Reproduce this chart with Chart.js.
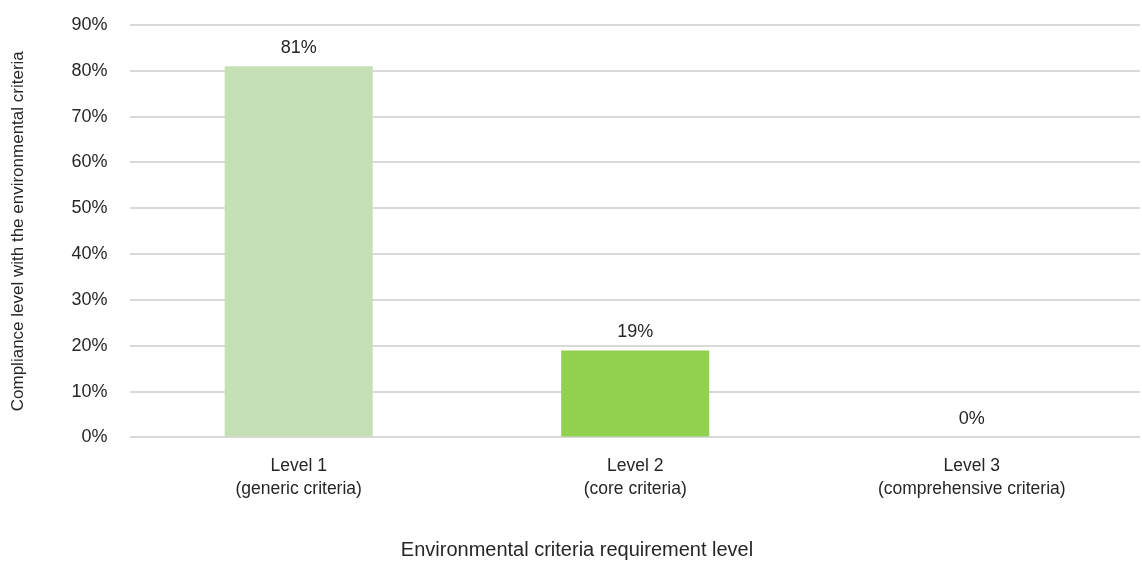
<!DOCTYPE html>
<html>
<head>
<meta charset="utf-8">
<script src="https://cdn.jsdelivr.net/npm/chart.js@4"></script>
<style>
  html, body { margin: 0; padding: 0; background: #fff; }
  #wrap { width: 1142px; height: 568px; }
</style>
</head>
<body>
<div id="wrap"><canvas id="chart"></canvas></div>
<script>
'use strict';

const categories = [
    ['Level 1', '(generic criteria)'],
    ['Level 2', '(core criteria)'],
    ['Level 3', '(comprehensive criteria)']
];
const compliance = [81, 19, 0];
const barColors = ['#C5E0B4', '#92D050', '#70AD47'];
const yMax = 90;
const yStep = 10;

const xTitle = 'Environmental criteria requirement level';
const yTitle = 'Compliance level with the environmental criteria';

const FONT = '"Liberation Sans", Arial, sans-serif';
const TEXT = '#262626';

// value label above each bar
const valueLabels = {
    id: 'valueLabels',
    afterDatasetsDraw(chart) {
        const { ctx } = chart;
        const meta = chart.getDatasetMeta(0);
        ctx.save();
        ctx.font = '18px ' + FONT;
        ctx.fillStyle = TEXT;
        ctx.textAlign = 'center';
        ctx.textBaseline = 'bottom';
        meta.data.forEach((bar, i) => {
            ctx.fillText(compliance[i] + '%', bar.x, bar.y - 9);
        });
        ctx.restore();
    }
};

// x axis title sits centred on the page, not on the plot
const pageXTitle = {
    id: 'pageXTitle',
    afterDraw(chart) {
        const { ctx } = chart;
        ctx.save();
        ctx.font = '20px ' + FONT;
        ctx.fillStyle = TEXT;
        ctx.textAlign = 'center';
        ctx.textBaseline = 'middle';
        ctx.fillText(xTitle, chart.width / 2 + 6, chart.height - 18);
        ctx.restore();
    }
};

new Chart(document.getElementById('chart'), {
    type: 'bar',
    data: {
        labels: categories,
        datasets: [{
            data: compliance,
            backgroundColor: barColors,
            borderWidth: 0,
            categoryPercentage: 1,
            barPercentage: 0.44
        }]
    },
    options: {
        responsive: true,
        maintainAspectRatio: false,
        animation: false,
        layout: { padding: { top: 0, right: 2, left: 8, bottom: 58 } },
        plugins: {
            legend: { display: false },
            tooltip: { enabled: false }
        },
        scales: {
            x: {
                grid: { display: false },
                border: { display: false },
                ticks: {
                    color: TEXT,
                    font: { family: FONT, size: 17.5, lineHeight: 1.33 },
                    padding: 9,
                    maxRotation: 0
                }
            },
            y: {
                min: 0,
                max: yMax,
                grid: { color: '#D9D9D9', lineWidth: 2, drawTicks: false },
                border: { display: false },
                ticks: {
                    stepSize: yStep,
                    color: TEXT,
                    font: { family: FONT, size: 18 },
                    padding: 23,
                    callback: v => v + '%'
                },
                title: {
                    display: true,
                    text: yTitle,
                    color: TEXT,
                    font: { family: FONT, size: 17 },
                    padding: { top: 0, bottom: 20 }
                },
                afterFit(scale) {
                    scale.paddingTop = 25;
                }
            }
        }
    },
    plugins: [valueLabels, pageXTitle]
});
</script>
</body>
</html>
